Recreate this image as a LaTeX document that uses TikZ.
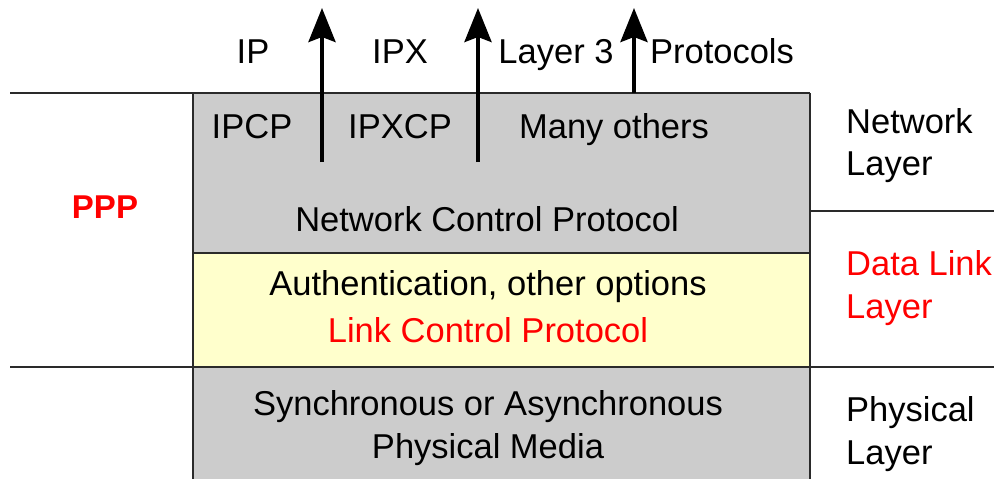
\documentclass[tikz,border=0pt]{standalone}
\usepackage{fontspec}
\setmainfont{Liberation Sans}
\usetikzlibrary{arrows.meta}
\definecolor{boxgray}{HTML}{CCCCCC}
\definecolor{lcpyellow}{HTML}{FFFFCC}
\definecolor{rulecol}{HTML}{2A2A2A}
\definecolor{hotred}{HTML}{FF0000}
\begin{document}
\begin{tikzpicture}[x=1pt,y=-1pt,
  rule/.style={draw=rulecol,line width=2pt},
  lbl/.style={inner sep=0pt,anchor=base,font=\fontsize{34.5}{40}\selectfont},
  side/.style={lbl,anchor=base west},
  uparrow/.style={line width=4pt,-{Stealth[length=34pt,width=27pt,inset=5pt]}}]
\useasboundingbox (0,0) rectangle (994,479);

% protocol stack boxes
\fill[boxgray] (193,93) rectangle (810,253);
\fill[lcpyellow] (193,253) rectangle (810,367);
\fill[boxgray] (193,367) rectangle (810,479);

% layer boundaries and box outlines
\draw[rule] (10,93) -- (810,93);
\draw[rule] (193,93) -- (193,479);
\draw[rule] (810,93) -- (810,479);
\draw[rule] (193,253) -- (810,253);
\draw[rule] (810,211) -- (994,211);
\draw[rule] (10,367) -- (994,367);

% anchors for the upward arrows
\coordinate (a1s) at (322,162);
\coordinate (a1e) at (322,8);
\coordinate (a2s) at (478,162);
\coordinate (a2e) at (478,8);
\coordinate (a3s) at (634,93);
\coordinate (a3e) at (634,8);
\draw[uparrow] (a1s) -- (a1e);
\draw[uparrow] (a2s) -- (a2e);
\draw[uparrow] (a3s) -- (a3e);

% layer 3 protocols
\node[lbl] (ip) at (253,63) {IP};
\node[lbl] (ipx) at (400,63) {IPX};
\node[lbl] (l3) at (556,63) {Layer 3};
\node[lbl] (prot) at (722,63) {Protocols};

% network control protocols
\node[lbl] (ipcp) at (252,138) {IPCP};
\node[lbl] (ipxcp) at (400,138) {IPXCP};
\node[lbl] (many) at (614,138) {Many others};
\node[lbl] (ncp) at (487,231) {Network Control Protocol};

% link control protocol
\node[lbl] (auth) at (488,295) {Authentication, other options};
\node[lbl,text=hotred] (lcp) at (488,342) {Link Control Protocol};

% physical media
\node[lbl] (sync) at (488,415) {Synchronous or Asynchronous};
\node[lbl] (media) at (488,458) {Physical Media};

% PPP label
\node[lbl,text=hotred,font=\fontsize{33}{40}\selectfont\bfseries] (ppp) at (105,218) {PPP};

% OSI layer names
\node[side] (nl1) at (846,133) {Network};
\node[side] (nl2) at (846,175) {Layer};
\node[side,text=hotred] (dl1) at (846,275) {Data Link};
\node[side,text=hotred] (dl2) at (846,318) {Layer};
\node[side] (pl1) at (846,421) {Physical};
\node[side] (pl2) at (846,464) {Layer};
\end{tikzpicture}
\end{document}
